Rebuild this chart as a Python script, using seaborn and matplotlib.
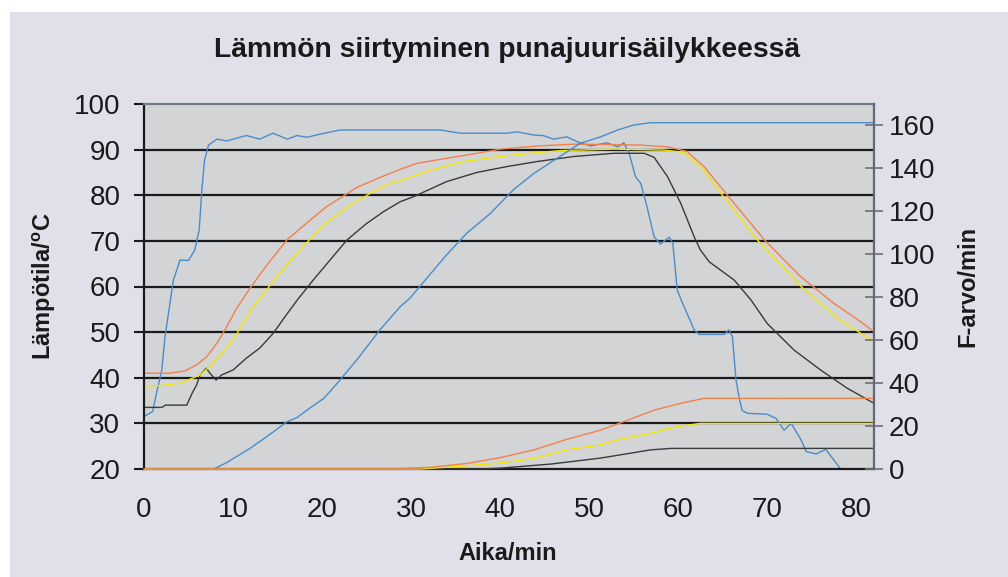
import matplotlib
matplotlib.use("Agg")
import matplotlib.pyplot as plt
import seaborn as sns
import pandas as pd
from matplotlib.patches import Rectangle

# ---------------- data ----------------
# Temperatures (left axis, °C)
blue_t_x = [0, 0.97, 1.4, 2.0, 2.36, 3.3, 4.05, 5.0, 5.7, 6.2, 6.5, 6.8, 7.25, 8.2, 9.3,
            11.5, 13.0, 14.5, 16.1, 17.2, 18.3, 19.8, 22.0, 26.5, 33.3, 35.5, 40.8, 41.9,
            43.8, 44.9, 46.0, 47.5, 48.7, 50.2, 52.0, 53.2, 53.9, 54.5, 55.2, 55.8, 56.5,
            57.3, 58.0, 59.0, 59.4, 59.9, 60.5, 61.0, 61.8, 62.35, 65.2, 65.7, 66.1, 66.5,
            66.9, 67.2, 67.8, 70.0, 71.0, 71.9, 72.7, 73.8, 74.4, 75.5, 76.6, 77.2, 78.3]
blue_t_y = [31.5, 32.6, 36.6, 41.7, 49.0, 61.4, 65.8, 65.7, 68.0, 72.4, 81.2, 87.7, 91.0,
            92.3, 91.9, 93.1, 92.3, 93.6, 92.3, 93.1, 92.7, 93.4, 94.3, 94.3, 94.3, 93.6,
            93.6, 93.9, 93.2, 93.05, 92.3, 92.8, 91.7, 90.8, 91.5, 90.6, 91.5, 89.2, 84.1,
            82.6, 77.5, 70.9, 69.3, 70.8, 69.5, 59.2, 56.3, 54.1, 50.5, 49.5, 49.5, 50.5,
            49.0, 39.5, 35.1, 32.8, 32.2, 32.0, 31.1, 28.5, 30.0, 26.4, 23.8, 23.3, 24.3,
            22.7, 19.9]

orange_t_x = [0, 2.9, 4.6, 5.9, 7.05, 8.2, 9.3, 10.4, 11.9, 13.8, 16.1, 18.7, 20.5, 23.9,
              26.5, 28.8, 30.7, 34.0, 37.4, 40.0, 44.2, 48.3, 55.8, 58.8, 61.0, 62.9, 65.5,
              69.7, 73.8, 77.5, 80.2, 82.0]
orange_t_y = [41.0, 41.0, 41.5, 42.8, 44.6, 47.6, 51.2, 55.2, 59.6, 64.7, 70.3, 74.6, 77.5,
              81.7, 83.9, 85.7, 87.0, 88.1, 89.2, 90.1, 90.8, 91.2, 91.0, 90.6, 89.6, 86.3,
              80.1, 70.2, 62.1, 56.3, 52.7, 50.1]

yellow_t_x = [0, 2.0, 4.05, 6.3, 7.8, 10.0, 12.3, 14.9, 17.5, 20.2, 23.2, 25.4, 27.3, 28.8,
              32.2, 35.9, 40.0, 43.4, 46.8, 52.8, 58.4, 60.7, 62.9, 64.8, 68.9, 73.8, 77.9, 82.0]
yellow_t_y = [38.2, 38.3, 38.8, 40.6, 43.2, 48.3, 55.6, 62.1, 68.0, 73.5, 77.9, 80.4, 82.4,
              83.2, 85.5, 87.4, 88.5, 89.2, 89.8, 90.1, 89.9, 89.4, 85.5, 80.4, 70.2, 60.0,
              53.0, 47.9]

black_t_x = [0, 2.0, 2.4, 4.8, 5.4, 5.9, 6.3, 7.0, 7.4, 8.1, 8.7, 10.0, 11.5, 13.0, 14.5,
             15.7, 17.2, 19.0, 20.9, 22.8, 25.0, 26.9, 28.8, 30.3, 34.0, 37.4, 40.8, 44.2,
             48.3, 52.8, 56.2, 57.3, 58.8, 60.3, 61.8, 62.5, 63.5, 66.3, 68.2, 70.0, 73.0,
             76.0, 79.0, 82.0]
black_t_y = [33.5, 33.5, 34.0, 34.0, 36.6, 38.4, 40.6, 42.1, 41.0, 39.5, 40.6, 41.7, 44.3,
             46.5, 49.7, 53.0, 57.0, 61.4, 65.8, 70.2, 73.8, 76.4, 78.6, 79.7, 83.0, 85.0,
             86.3, 87.4, 88.5, 89.2, 89.2, 88.3, 84.1, 78.2, 70.9, 68.0, 65.4, 61.4, 57.0,
             51.9, 46.1, 41.7, 37.7, 34.4]

# F-values (right axis, min)
blue_f_x = [0, 7.8, 9.3, 11.9, 13.8, 16.1, 17.2, 18.3, 20.2, 21.7, 23.9, 26.5, 28.8, 29.9,
            34.0, 36.3, 38.9, 41.5, 43.8, 46.4, 49.0, 51.3, 53.2, 55.0, 56.9, 82.0]
blue_f_y = [0, 0, 3.0, 9.6, 15.1, 22.1, 24.0, 27.4, 32.9, 39.9, 50.8, 64.8, 75.7, 79.7,
            99.8, 110.0, 119.0, 130.1, 137.7, 144.7, 151.7, 154.7, 157.9, 160.2, 161.3, 161.3]

orange_f_x = [0, 28.0, 32.2, 36.3, 40.0, 43.8, 47.5, 51.3, 54.3, 57.3, 60.3, 62.9, 82.0]
orange_f_y = [0, 0, 0.8, 2.6, 5.3, 8.9, 13.8, 18.1, 22.7, 27.4, 30.6, 32.9, 32.9]

yellow_f_x = [0, 31.0, 32.5, 36.3, 40.0, 43.8, 47.5, 51.3, 53.2, 56.9, 59.9, 62.5, 82.0]
yellow_f_y = [0, 0, 0.4, 1.5, 2.8, 4.9, 8.9, 11.3, 13.6, 16.6, 19.8, 21.25, 21.25]

black_f_x = [0, 37.8, 40.0, 45.7, 51.3, 56.9, 59.2, 82.0]
black_f_y = [0, 0, 0.4, 2.3, 5.1, 8.9, 9.6, 9.6]

x_ticks = [0, 10, 20, 30, 40, 50, 60, 70, 80]
left_ticks = [20, 30, 40, 50, 60, 70, 80, 90, 100]
right_ticks = [0, 20, 40, 60, 80, 100, 120, 140, 160]

title = "Lämmön siirtyminen punajuurisäilykkeessä"
xlabel = "Aika/min"
ylabel = r"Lämpötila/$\mathbf{^o}$C"
ylabel2 = "F-arvo/min"

# ---------------- style ----------------
sns.set_style("white")
plt.rcParams["font.family"] = ["Liberation Sans", "DejaVu Sans"]
plt.rcParams["mathtext.fontset"] = "custom"
plt.rcParams["mathtext.rm"] = "Liberation Sans"
plt.rcParams["mathtext.bf"] = "Liberation Sans:bold"

W, H = 1008, 577
fig = plt.figure(figsize=(W / 100, H / 100), dpi=100)
fig.patch.set_facecolor("white")
fig.patches.append(Rectangle((10 / W, 0), 1, 1 - 12 / H, transform=fig.transFigure,
                             facecolor="#e1e0ea", edgecolor="none", zorder=-10))

L, R, T, B = 144, 874, 104, 469
ax = fig.add_axes([L / W, 1 - B / H, (R - L) / W, (B - T) / H])
ax.set_facecolor("#d3d4d6")
ax2 = ax.twinx()

c_blue = "#4a8cca"
c_orange = "#f2814a"
c_yellow = "#f2e600"
c_black = "#3a3a3a"
lw = 1.0

def draw(a, xs, ys, color, clip=True):
    df = pd.DataFrame({"x": xs, "y": ys})
    sns.lineplot(data=df, x="x", y="y", ax=a, color=color, linewidth=lw,
                 estimator=None, sort=False, legend=False, clip_on=clip)

draw(ax, blue_t_x, blue_t_y, c_blue)
draw(ax, black_t_x, black_t_y, c_black)
draw(ax, yellow_t_x, yellow_t_y, c_yellow)
draw(ax, orange_t_x, orange_t_y, c_orange)

draw(ax2, blue_f_x, blue_f_y, c_blue)
draw(ax2, black_f_x, black_f_y, c_black, clip=False)
draw(ax2, yellow_f_x, yellow_f_y, c_yellow, clip=False)
draw(ax2, orange_f_x, orange_f_y, c_orange, clip=False)

ax.set_xlim(0, 82)
ax.set_ylim(20, 100)
ax2.set_ylim(0, 170)
ax.set_xticks(x_ticks)
ax.set_yticks(left_ticks)
ax2.set_yticks(right_ticks)
ax.set_xlabel("")
ax.set_ylabel("")
ax2.set_ylabel("")

ax.grid(False)
ax2.grid(False)
for v in left_ticks[1:-1]:
    ax.axhline(v, color="#1a1a1a", linewidth=1.6, zorder=0.5)

for a in (ax, ax2):
    for s in a.spines.values():
        s.set_visible(True)
ax.spines["left"].set_color("#1a1a1a")
ax.spines["left"].set_linewidth(1.6)
ax.spines["bottom"].set_color("#1a1a1a")
ax.spines["bottom"].set_linewidth(1.6)
ax.spines["top"].set_color("#6f7b86")
ax.spines["top"].set_linewidth(1.6)
ax.spines["right"].set_visible(False)
ax2.spines["left"].set_visible(False)
ax2.spines["bottom"].set_visible(False)
ax2.spines["top"].set_visible(False)
ax2.spines["right"].set_color("#5f6a74")
ax2.spines["right"].set_linewidth(1.6)

fs = 20
ax.tick_params(axis="y", direction="out", length=7, width=1.5, color="#1a1a1a",
               labelsize=fs, pad=10, labelcolor="#1a1a1a")
ax.tick_params(axis="x", direction="out", length=7, width=1.5, color="#1a1a1a",
               labelsize=fs, pad=13, labelcolor="#1a1a1a")
ax2.tick_params(axis="y", direction="inout", length=13, width=1.2, color="#707070",
                labelsize=fs, pad=4, labelcolor="#1a1a1a")

fig.text(507 / W, 1 - 50 / H, title, ha="center", va="center", fontsize=20.3,
         fontweight="bold", color="#1a1a1a")
fig.text(508 / W, 1 - 553 / H, xlabel, ha="center", va="center", fontsize=17,
         fontweight="bold", color="#1a1a1a")
fig.text(44 / W, 1 - 286 / H, ylabel, ha="center", va="center", rotation=90,
         fontsize=17, fontweight="bold", color="#1a1a1a")
fig.text(968 / W, 1 - 286 / H, ylabel2, ha="center", va="center", rotation=90,
         fontsize=17, fontweight="bold", color="#1a1a1a")

fig.savefig("out.png", dpi=100)
